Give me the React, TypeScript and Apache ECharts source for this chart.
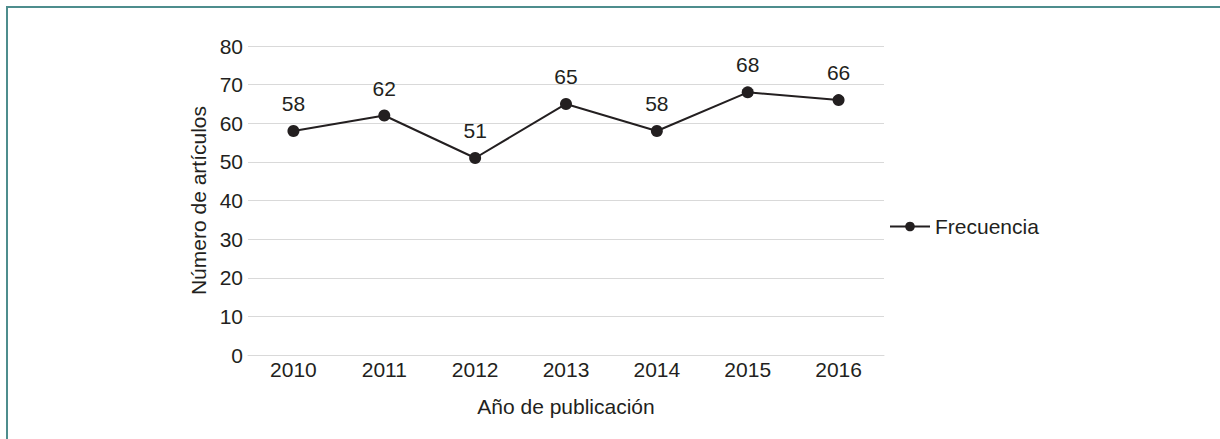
import React, { useEffect, useRef } from "react";
import * as echarts from "echarts";

const years = ["2010", "2011", "2012", "2013", "2014", "2015", "2016"];
const frecuencia = [58, 62, 51, 65, 58, 68, 66];
const seriesName = "Frecuencia";
const yAxisName = "Número de artículos";
const xAxisName = "Año de publicación";

export default function App() {
  const ref = useRef<HTMLDivElement>(null);
  useEffect(() => {
    document.body.style.margin = "0";
    const chart = echarts.init(ref.current!, null, { renderer: "svg" });
    const font = "Liberation Sans, Arial, sans-serif";
    const txt = "#231f20";
    const fs = 21;
    chart.setOption({
      animation: false,
      backgroundColor: "#ffffff",
      textStyle: { fontFamily: font },
      graphic: [
        {
          type: "rect",
          shape: { x: 7, y: 7, width: 1230, height: 460 },
          style: { fill: "none", stroke: "#4e8d8d", lineWidth: 2 },
          silent: true,
        },
      ],
      grid: { left: 248, right: 336, top: 46, bottom: 84 },
      legend: {
        data: [seriesName],
        left: 884,
        top: 211,
        itemWidth: 40,
        itemHeight: 12,
        itemGap: 4,
        textStyle: { fontSize: fs, color: txt, fontFamily: font },
      },
      xAxis: {
        type: "category",
        data: years,
        boundaryGap: true,
        name: xAxisName,
        nameLocation: "middle",
        nameGap: 41,
        nameTextStyle: { fontSize: fs, color: txt, fontFamily: font },
        axisLine: { lineStyle: { color: "#d9d9d9" } },
        axisTick: { show: false },
        axisLabel: { fontSize: fs, color: txt, margin: 4, fontFamily: font },
      },
      yAxis: {
        type: "value",
        min: 0,
        max: 80,
        interval: 10,
        name: yAxisName,
        nameLocation: "middle",
        nameGap: 39,
        nameTextStyle: { fontSize: fs, color: txt, fontFamily: font },
        axisLine: { show: false },
        axisTick: { show: false },
        splitLine: { lineStyle: { color: "#d9d9d9", width: 1 } },
        axisLabel: { fontSize: fs, color: txt, margin: 5, fontFamily: font },
      },
      series: [
        {
          name: seriesName,
          type: "line",
          data: frecuencia,
          symbol: "circle",
          symbolSize: 12,
          itemStyle: { color: "#231f20" },
          lineStyle: { color: "#231f20", width: 2 },
          label: {
            show: true,
            position: "top",
            distance: 11,
            fontSize: fs,
            color: txt,
            fontFamily: font,
          },
        },
      ],
    });
    return () => chart.dispose();
  }, []);
  return <div ref={ref} style={{ width: 1220, height: 439 }} />;
}
